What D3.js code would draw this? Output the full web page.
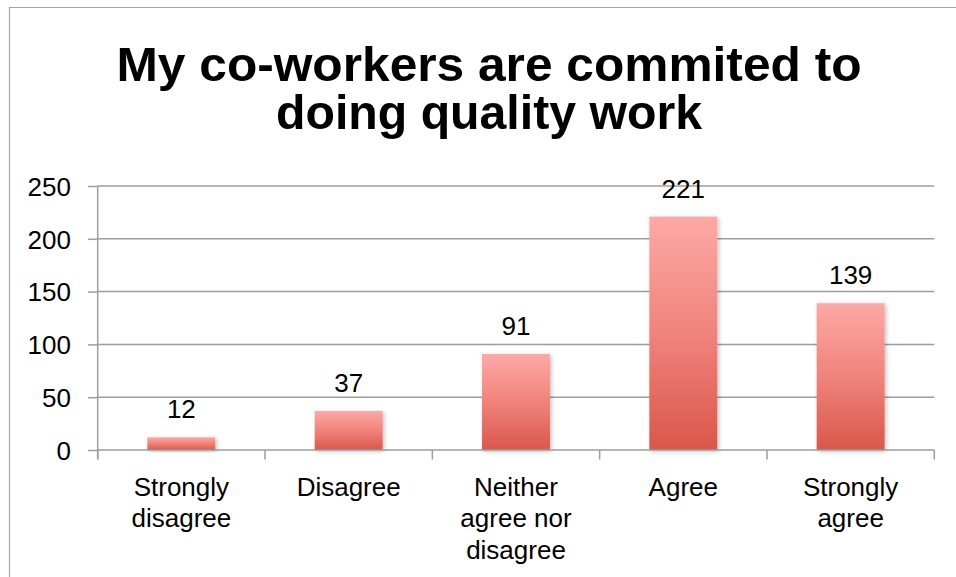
<!DOCTYPE html>
<html>
<head>
<meta charset="utf-8">
<script src="https://cdn.jsdelivr.net/npm/d3@7"></script>
<style>
  html, body { margin: 0; padding: 0; background: #fff; }
  svg { display: block; }
</style>
</head>
<body>
<svg id="chart" width="956" height="577"></svg>
<script>
const titleLines = ["My co-workers are commited to", "doing quality work"];
const categories = [["Strongly", "disagree"], ["Disagree"], ["Neither", "agree nor", "disagree"], ["Agree"], ["Strongly", "agree"]];
const categoryKeys = ["Strongly disagree", "Disagree", "Neither agree nor disagree", "Agree", "Strongly agree"];
const values = [12, 37, 91, 221, 139];
const yTicks = [0, 50, 100, 150, 200, 250];

const svg = d3.select("#chart");
const font = "'Liberation Sans', Arial, sans-serif";

// frame
svg.append("path").attr("d", "M9.5,600 V7.5 H960").attr("fill", "none").attr("stroke", "#a6a6a6").attr("stroke-width", 1.2);

// title
const titleWidths = [745, 426];
const titleBase = [81, 129];
titleLines.forEach((t, i) => {
  svg.append("text")
    .attr("x", 489).attr("y", titleBase[i])
    .attr("text-anchor", "middle")
    .attr("font-family", font).attr("font-weight", "bold")
    .attr("font-size", 48)
    .attr("textLength", titleWidths[i]).attr("lengthAdjust", "spacingAndGlyphs")
    .attr("fill", "#000")
    .text(t);
});

const x0 = 97.7, x1 = 934.3, yTop = 186, yBot = 450;
const x = d3.scaleBand().domain(categoryKeys).range([x0, x1]).padding(0);
const y = d3.scaleLinear().domain([0, 250]).range([yBot, yTop]);

// defs
const defs = svg.append("defs");
const grad = defs.append("linearGradient").attr("id", "barGrad").attr("x1", 0).attr("y1", 0).attr("x2", 0).attr("y2", 1);
grad.append("stop").attr("offset", "0%").attr("stop-color", "#fda9a6");
grad.append("stop").attr("offset", "55%").attr("stop-color", "#ee7f77");
grad.append("stop").attr("offset", "100%").attr("stop-color", "#d9574a");
const f = defs.append("filter").attr("id", "shadow").attr("x", "-20%").attr("y", "-20%").attr("width", "140%").attr("height", "140%");
f.append("feDropShadow").attr("dx", 1.5).attr("dy", 1.5).attr("stdDeviation", 2).attr("flood-color", "#000").attr("flood-opacity", 0.25);

// gridlines
svg.append("g").selectAll("line").data(yTicks.filter(d => d > 0)).join("line")
  .attr("x1", x0).attr("x2", x1)
  .attr("y1", d => y(d)).attr("y2", d => y(d))
  .attr("stroke", "#9d9d9d").attr("stroke-width", 1.5);

// y axis
const yAxis = svg.append("g").attr("transform", `translate(${x0},0)`)
  .call(d3.axisLeft(y).tickValues(yTicks).tickSize(9.7).tickPadding(17).tickSizeOuter(0));
yAxis.select(".domain").remove();
yAxis.selectAll(".tick line").attr("stroke", "#9d9d9d").attr("stroke-width", 1.5);
yAxis.selectAll(".tick text").attr("font-family", font).attr("font-size", 26).attr("fill", "#000").attr("dy", "0.36em");
svg.append("line").attr("x1", x0).attr("x2", x0).attr("y1", yTop).attr("y2", yBot + 9.5)
  .attr("stroke", "#9d9d9d").attr("stroke-width", 1.5);

// bars
const barFrac = 0.406;
const bw = x.bandwidth() * barFrac;
svg.append("g").selectAll("rect").data(values).join("rect")
  .attr("x", (d, i) => x(categoryKeys[i]) + (x.bandwidth() - bw) / 2)
  .attr("y", d => y(d))
  .attr("width", bw)
  .attr("height", d => yBot - y(d))
  .attr("fill", "url(#barGrad)")
  .attr("filter", "url(#shadow)");

// x axis
svg.append("line").attr("x1", x0).attr("x2", x1).attr("y1", yBot).attr("y2", yBot)
  .attr("stroke", "#9d9d9d").attr("stroke-width", 1.5);
const tickXs = categoryKeys.map(k => x(k)).concat([x1]);
svg.append("g").selectAll("line").data(tickXs).join("line")
  .attr("x1", d => d).attr("x2", d => d).attr("y1", yBot).attr("y2", yBot + 9.5)
  .attr("stroke", "#9d9d9d").attr("stroke-width", 1.5);

// value labels
svg.append("g").selectAll("text").data(values).join("text")
  .attr("x", (d, i) => x(categoryKeys[i]) + x.bandwidth() / 2)
  .attr("y", d => y(d) - 19)
  .attr("text-anchor", "middle")
  .attr("font-family", font).attr("font-size", 26).attr("fill", "#000")
  .text(d => d);

// category labels
const cl = svg.append("g").selectAll("text").data(categories).join("text")
  .attr("text-anchor", "middle")
  .attr("font-family", font).attr("font-size", 26).attr("fill", "#000")
  .attr("x", (d, i) => x(categoryKeys[i]) + x.bandwidth() / 2)
  .attr("y", 495.5);
cl.each(function(lines, i) {
  const cx = x(categoryKeys[i]) + x.bandwidth() / 2;
  d3.select(this).selectAll("tspan").data(lines).join("tspan")
    .attr("x", cx).attr("dy", (d, j) => j === 0 ? 0 : 31.8)
    .text(d => d);
});
</script>
</body>
</html>
